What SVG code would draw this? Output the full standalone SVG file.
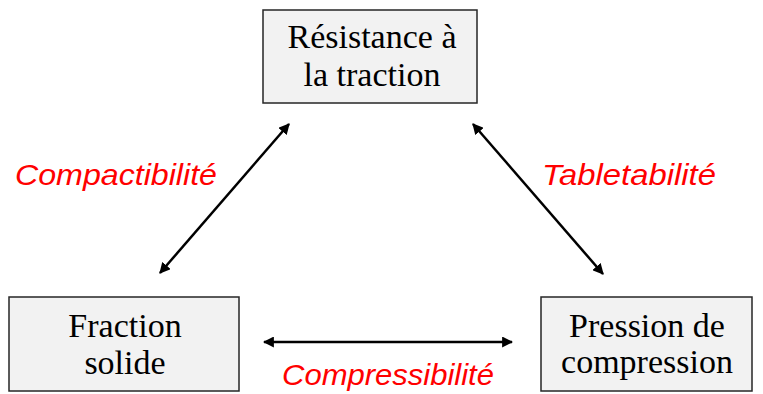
<svg xmlns="http://www.w3.org/2000/svg" width="763" height="394" viewBox="0 0 763 394">
<style>
.box{fill:#f2f2f2;stroke:#262626;stroke-width:1.5}
.t{font-family:"Liberation Serif","Times New Roman",serif;font-size:34px;fill:#000;text-anchor:middle}
.lbl{font-family:"Liberation Sans",Arial,sans-serif;font-style:italic;font-size:30px;fill:#ff0000}
.c{stroke:#000;stroke-width:2.5;fill:none;marker-start:url(#ah);marker-end:url(#ah)}
</style>
<defs>
<marker id="ah" viewBox="0 0 10 10" refX="9" refY="5" markerWidth="4.4" markerHeight="4.4" orient="auto-start-reverse" markerUnits="strokeWidth">
<path d="M0,0 L10,5 L0,10 Z" fill="#000"/>
</marker>
</defs>
<g id="node-resistance">
<rect class="box" x="263" y="10" width="214" height="93"/>
<text class="t" x="372" y="48">Résistance à</text>
<text class="t" x="372" y="86">la traction</text>
</g>
<g id="node-fraction">
<rect class="box" x="9" y="297" width="230" height="94"/>
<text class="t" x="125" y="337">Fraction</text>
<text class="t" x="125" y="374">solide</text>
</g>
<g id="node-pression">
<rect class="box" x="541" y="297" width="211" height="94"/>
<text class="t" x="647" y="337">Pression de</text>
<text class="t" x="647" y="373">compression</text>
</g>
<g id="connectors">
<line class="c" x1="160" y1="273" x2="289" y2="124"/>
<line class="c" x1="473" y1="124" x2="603" y2="274"/>
<line class="c" x1="264" y1="342" x2="512" y2="342"/>
</g>
<g id="labels">
<text class="lbl" x="15" y="185" textLength="202" lengthAdjust="spacingAndGlyphs">Compactibilité</text>
<text class="lbl" x="542" y="185" textLength="174" lengthAdjust="spacingAndGlyphs">Tabletabilité</text>
<text class="lbl" x="282" y="385" textLength="212" lengthAdjust="spacingAndGlyphs">Compressibilité</text>
</g>
</svg>
